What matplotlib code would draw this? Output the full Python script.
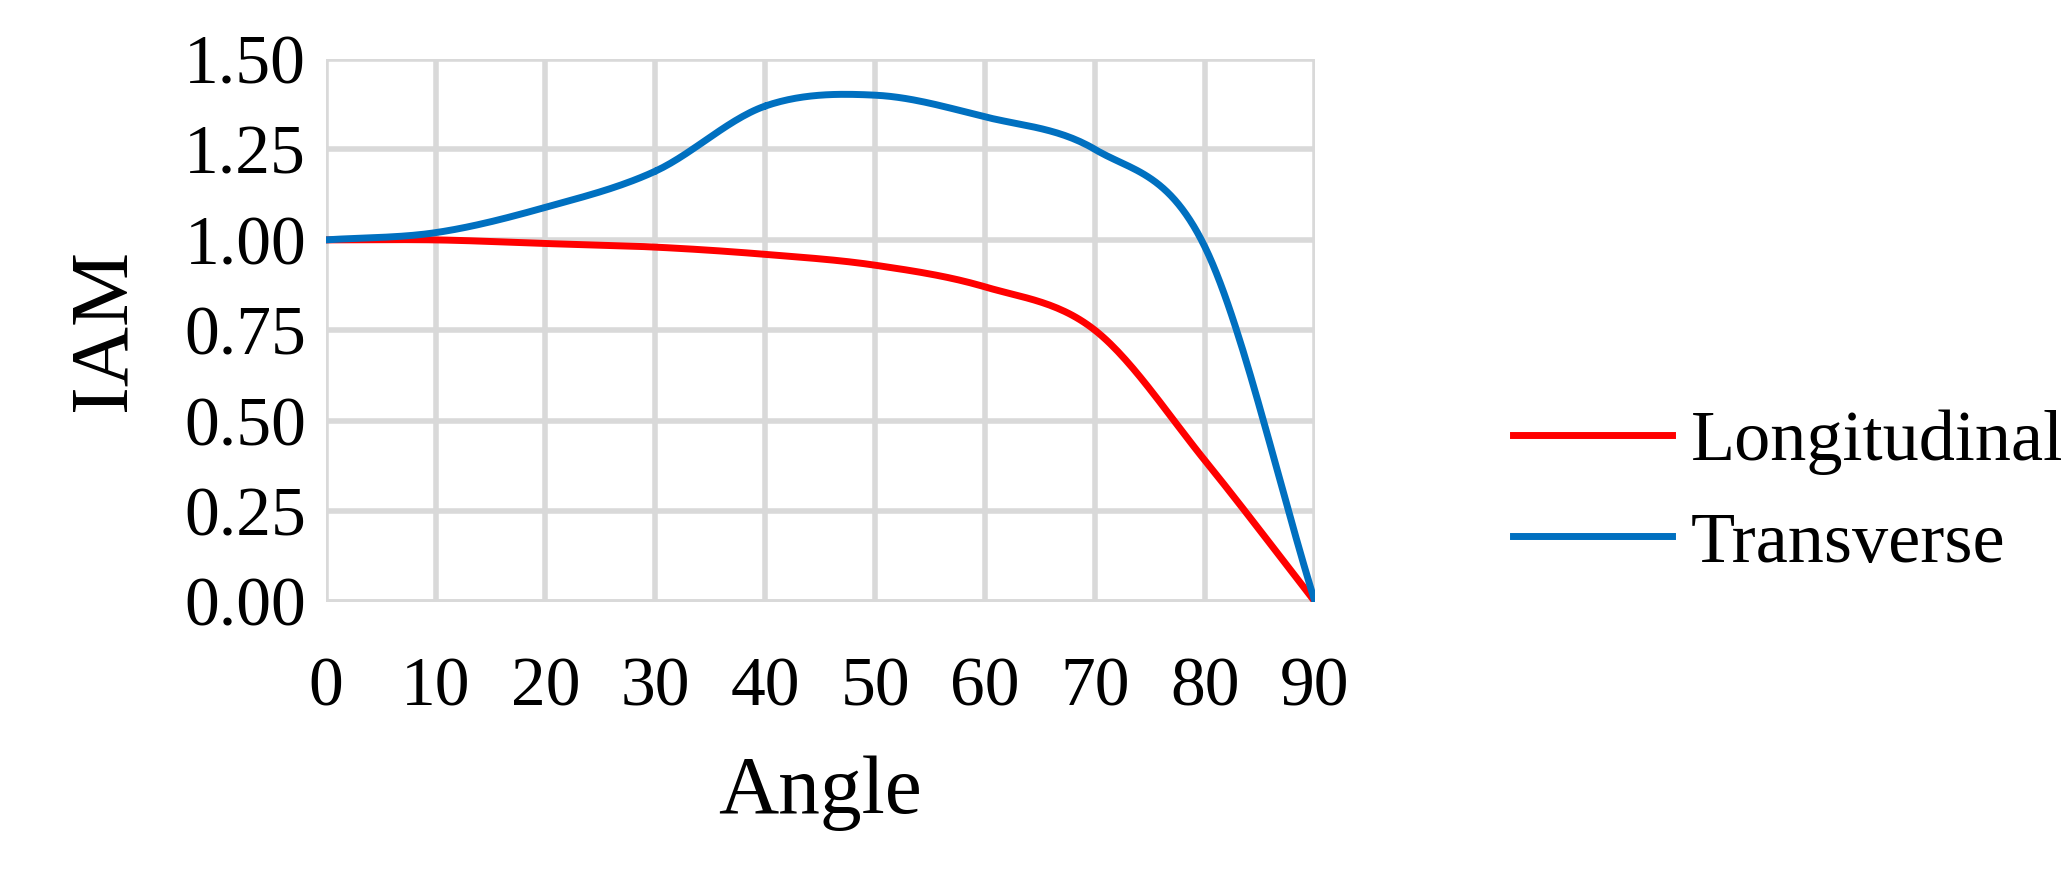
import numpy as np
import matplotlib.pyplot as plt

# Datos
angulos = [0, 10, 20, 30, 40, 50, 60, 70, 80, 90]
longitudinal = [1.00, 1.00, 0.99, 0.98, 0.96, 0.93, 0.87, 0.75, 0.39, 0.00]
transversal = [1.00, 1.02, 1.09, 1.19, 1.37, 1.40, 1.34, 1.25, 0.98, 0.00]
ticks_y = [0.00, 0.25, 0.50, 0.75, 1.00, 1.25, 1.50]


def suavizar(x, y, n=30):
    """Curva suavizada tipo Catmull-Rom (como la linea suavizada de Excel)."""
    x = np.asarray(x, float)
    y = np.asarray(y, float)
    px = np.concatenate([[2 * x[0] - x[1]], x, [2 * x[-1] - x[-2]]])
    py = np.concatenate([[2 * y[0] - y[1]], y, [2 * y[-1] - y[-2]]])
    xs, ys = [], []
    t = np.linspace(0, 1, n)
    for i in range(1, len(px) - 2):
        for p, out in ((px, xs), (py, ys)):
            p0, p1, p2, p3 = p[i - 1], p[i], p[i + 1], p[i + 2]
            out.extend(0.5 * (2 * p1 + (-p0 + p2) * t
                              + (2 * p0 - 5 * p1 + 4 * p2 - p3) * t ** 2
                              + (-p0 + 3 * p1 - 3 * p2 + p3) * t ** 3))
    return np.array(xs), np.array(ys)


plt.rcParams['font.family'] = ['Liberation Serif', 'DejaVu Serif']

fig = plt.figure(figsize=(20.61, 8.94), dpi=100)
ax = fig.add_axes([0.158, 0.327, 0.48, 0.607])

x, y = suavizar(angulos, longitudinal)
ax.plot(x, y, color='#ff0000', linewidth=5, label='Longitudinal', zorder=3)
x, y = suavizar(angulos, transversal)
ax.plot(x, y, color='#0070c0', linewidth=5, label='Transverse', zorder=3)

ax.set_xlim(0, 90)
ax.set_ylim(0, 1.5)
ax.set_xticks(angulos)
ax.set_yticks(ticks_y)
ax.set_yticklabels([f'{v:.2f}' for v in ticks_y])
ax.grid(True, color='#d9d9d9', linewidth=4)
for s in ax.spines.values():
    s.set_visible(False)
ax.axhline(0, color='#d9d9d9', linewidth=4, zorder=1)
ax.tick_params(length=0, labelsize=50)
ax.tick_params(axis='x', pad=40)
ax.tick_params(axis='y', pad=14)
ax.set_xlabel('Angle', fontsize=60, labelpad=25)
ax.set_ylabel('IAM', fontsize=60, labelpad=30)

ax.legend(loc='center left', bbox_to_anchor=(1.135, 0.2), frameon=False,
          fontsize=52, handlelength=2.2, handletextpad=0.25, labelspacing=0.5)

plt.savefig('out.png')
